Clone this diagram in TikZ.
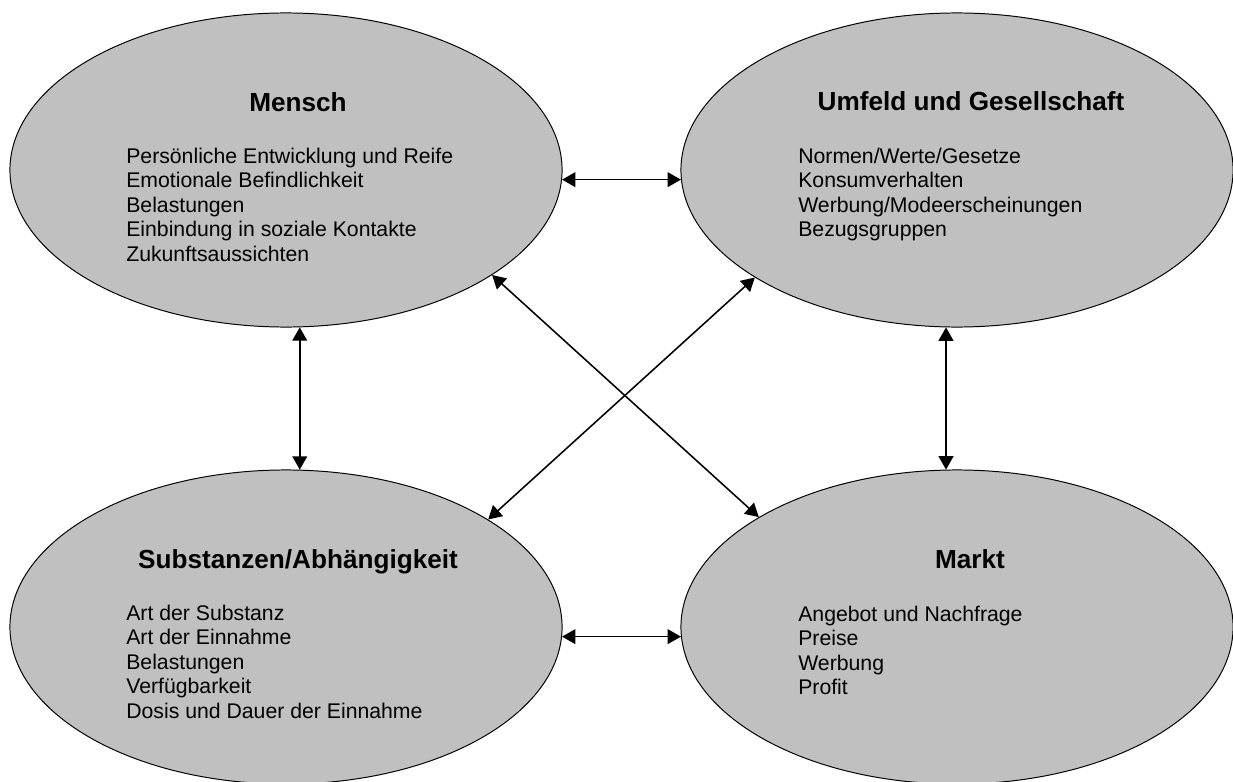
\documentclass[tikz,border=0pt]{standalone}
\usepackage{fontspec}
\setmainfont{Liberation Sans}
\usepackage{xcolor}
\usepackage{tikz}
\usetikzlibrary{arrows.meta,shapes.geometric}
\definecolor{ovalgray}{RGB}{192,192,192}
\tikzset{
  oval/.style   ={ellipse, draw, fill=ovalgray, line width=0.7pt,
                  minimum width=13.8cm, minimum height=7.85cm, inner sep=0pt},
  headtxt/.style={anchor=base, inner sep=0pt,
                  font=\fontsize{18.6}{22}\selectfont\bfseries},
  itemtxt/.style={anchor=base west, align=left, inner sep=0pt,
                  font=\fontsize{15.1}{17.4}\selectfont},
  arr/.style    ={{Triangle[length=9.5pt,width=10.5pt]}-{Triangle[length=9.5pt,width=10.5pt]},
                  line width=1.1pt},
}

\begin{document}
\begin{tikzpicture}[x=0.025cm,y=-0.025cm]
  \useasboundingbox (0,0) rectangle (1233,781);
  % four fields
  \node[oval] (mensch) at (286,170) {};
  \node[oval] (umfeld) at (957,170) {};
  \node[oval] (subst)  at (286,627) {};
  \node[oval] (markt)  at (957,627) {};
  % headings
  \node[headtxt] (menschT) at (298,112) {Mensch};
  \node[headtxt] (umfeldT) at (971,111) {Umfeld und Gesellschaft};
  \node[headtxt] (substT)  at (298,568) {Substanzen/Abhängigkeit};
  \node[headtxt] (marktT)  at (970,568) {Markt};
  % factor lists (placed by the baseline of the last line)
  \node[itemtxt] (menschL) at (126,261) {Persönliche Entwicklung und Reife\\
    Emotionale Befindlichkeit\\Belastungen\\Einbindung in soziale Kontakte\\
    Zukunftsaussichten};
  \node[itemtxt] (umfeldL) at (798,236.5) {Normen/Werte/Gesetze\\Konsumverhalten\\
    Werbung/Modeerscheinungen\\Bezugsgruppen};
  \node[itemtxt] (substL)  at (126,718) {Art der Substanz\\Art der Einnahme\\
    Belastungen\\Verfügbarkeit\\Dosis und Dauer der Einnahme};
  \node[itemtxt] (marktL)  at (798,694.5) {Angebot und Nachfrage\\Preise\\Werbung\\Profit};
  % mutual influences
  \draw[arr] (mensch.-2.5)  -- (umfeld.182.5);
  \draw[arr] (subst.-2.3)   -- (markt.182.3);
  \draw[arr] (mensch.-85.6) -- (subst.85.6);
  \draw[arr] (umfeld.-94.4) -- (markt.94.4);
  \draw[arr] (mensch.-27.7) -- (markt.151.7);
  \draw[arr] (umfeld.-152)  -- (subst.28);
\end{tikzpicture}
\end{document}
